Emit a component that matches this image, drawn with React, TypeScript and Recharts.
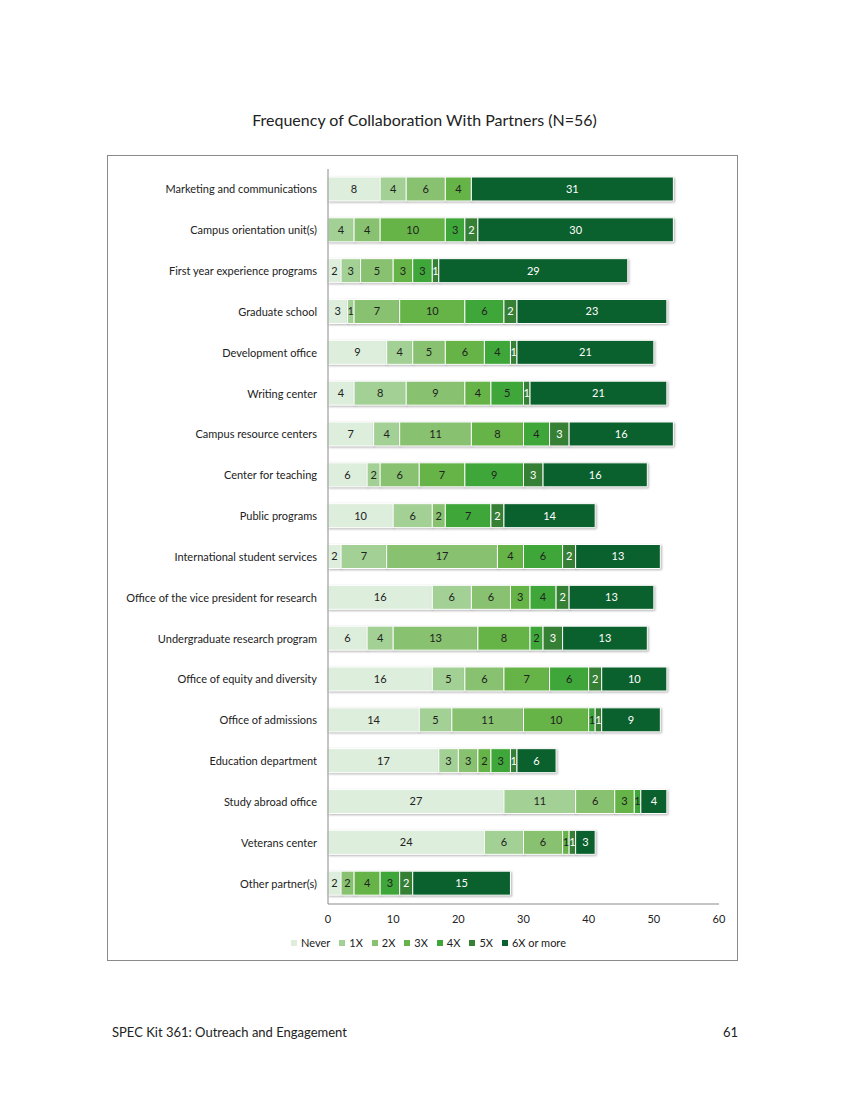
import { BarChart, Bar, XAxis, YAxis, LabelList, Legend } from "recharts";

const categories = [
  "Marketing and communications",
  "Campus orientation unit(s)",
  "First year experience programs",
  "Graduate school",
  "Development office",
  "Writing center",
  "Campus resource centers",
  "Center for teaching",
  "Public programs",
  "International student services",
  "Office of the vice president for research",
  "Undergraduate research program",
  "Office of equity and diversity",
  "Office of admissions",
  "Education department",
  "Study abroad office",
  "Veterans center",
  "Other partner(s)",
];

const never = [8, 0, 2, 3, 9, 4, 7, 6, 10, 2, 16, 6, 16, 14, 17, 27, 24, 2];
const once = [4, 4, 3, 1, 4, 8, 4, 2, 6, 7, 6, 4, 5, 5, 3, 11, 6, 0];
const twice = [6, 4, 5, 7, 5, 9, 11, 6, 2, 17, 6, 13, 6, 11, 3, 6, 6, 2];
const three = [4, 10, 3, 10, 6, 4, 8, 7, 0, 4, 3, 8, 7, 10, 2, 3, 1, 4];
const four = [0, 3, 3, 6, 4, 5, 4, 9, 7, 6, 4, 2, 6, 1, 3, 1, 0, 3];
const five = [0, 2, 1, 2, 1, 1, 3, 3, 2, 2, 2, 3, 2, 1, 1, 0, 1, 2];
const sixPlus = [31, 30, 29, 23, 21, 21, 16, 16, 14, 13, 13, 13, 10, 9, 6, 4, 3, 15];

const xTicks = [0, 10, 20, 30, 40, 50, 60];

const series = [
  { key: "Never", values: never, color: "#deeedc", text: "#222" },
  { key: "1X", values: once, color: "#a3d195", text: "#222" },
  { key: "2X", values: twice, color: "#88c16f", text: "#222" },
  { key: "3X", values: three, color: "#66b447", text: "#222" },
  { key: "4X", values: four, color: "#3fa73a", text: "#222" },
  { key: "5X", values: five, color: "#368036", text: "#fff" },
  { key: "6X or more", values: sixPlus, color: "#0b612d", text: "#fff" },
];

const data = categories.map((name, i) => {
  const row: Record<string, string | number> = { name };
  series.forEach((s) => {
    row[s.key] = s.values[i];
  });
  return row;
});

const font = "Lato, 'Noto Sans', sans-serif";

// category labels drawn on one line, right aligned to the axis
function CategoryTick(props: any) {
  const { x, y, payload } = props;
  return (
    <text
      x={x}
      y={y}
      dy={4}
      textAnchor="end"
      fontSize={11}
      fill="#222"
      fontFamily={font}
    >
      {payload.value}
    </text>
  );
}

function LegendContent() {
  return (
    <div
      style={{
        display: "flex",
        justifyContent: "center",
        alignItems: "center",
        fontSize: 11,
        color: "#222",
        fontFamily: font,
        paddingLeft: 12,
      }}
    >
      {series.map((s, i) => (
        <div
          key={s.key}
          style={{
            display: "flex",
            alignItems: "center",
            marginRight: i < series.length - 1 ? 9 : 0,
          }}
        >
          <span
            style={{
              display: "inline-block",
              width: 6,
              height: 6,
              background: s.color,
              marginRight: 4,
            }}
          />
          {s.key}
        </div>
      ))}
    </div>
  );
}

export default function App() {
  return (
    <div
      style={{
        position: "absolute",
        left: 0,
        top: 0,
        width: 849,
        height: 1100,
        background: "#fff",
        fontFamily: font,
      }}
    >
      <style>{`.recharts-bar-rectangle path { filter: drop-shadow(1px 1.5px 1px rgba(0,0,0,0.3)); }`}</style>
      <div
        style={{
          position: "absolute",
          top: 110,
          left: 0,
          width: 849,
          textAlign: "center",
          fontSize: 16,
          color: "#222",
        }}
      >
        Frequency of Collaboration With Partners (N=56)
      </div>
      <div
        style={{
          position: "absolute",
          left: 107,
          top: 155,
          width: 631,
          height: 806,
          border: "1px solid #8a8a8a",
          boxSizing: "border-box",
        }}
      >
        <BarChart
          width={629}
          height={804}
          data={data}
          layout="vertical"
          margin={{ top: 13, right: 18, bottom: 0, left: 0 }}
          barSize={24}
        >
          <XAxis
            type="number"
            domain={[0, 60]}
            ticks={xTicks}
            tickLine={false}
            axisLine={{ stroke: "#8a8a8a" }}
            tick={{ fontSize: 11, fill: "#222", fontFamily: font }}
            tickMargin={5}
            height={32}
            interval={0}
          />
          <YAxis
            type="category"
            dataKey="name"
            width={220}
            tickLine={false}
            tickSize={0}
            tickMargin={11}
            axisLine={{ stroke: "#8a8a8a" }}
            tick={<CategoryTick />}
            interval={0}
          />
          <Legend
            verticalAlign="bottom"
            height={24}
            content={() => <LegendContent />}
            wrapperStyle={{ left: 0, width: 629, top: 780, bottom: "auto" }}
          />
          {series.map((s) => (
            <Bar
              key={s.key}
              dataKey={s.key}
              stackId="a"
              fill={s.color}
              stroke="#fff"
              strokeWidth={1}
              isAnimationActive={false}
            >
              <LabelList
                dataKey={s.key}
                position="center"
                fill={s.text}
                fontSize={11}
                fontFamily={font}
                formatter={(v: any) => (v ? v : "")}
              />
            </Bar>
          ))}
        </BarChart>
      </div>
      <div
        style={{
          position: "absolute",
          left: 112,
          top: 1024,
          fontSize: 13,
          color: "#222",
        }}
      >
        SPEC Kit 361: Outreach and Engagement
      </div>
      <div
        style={{
          position: "absolute",
          right: 111,
          top: 1024,
          fontSize: 13,
          color: "#222",
        }}
      >
        61
      </div>
    </div>
  );
}
